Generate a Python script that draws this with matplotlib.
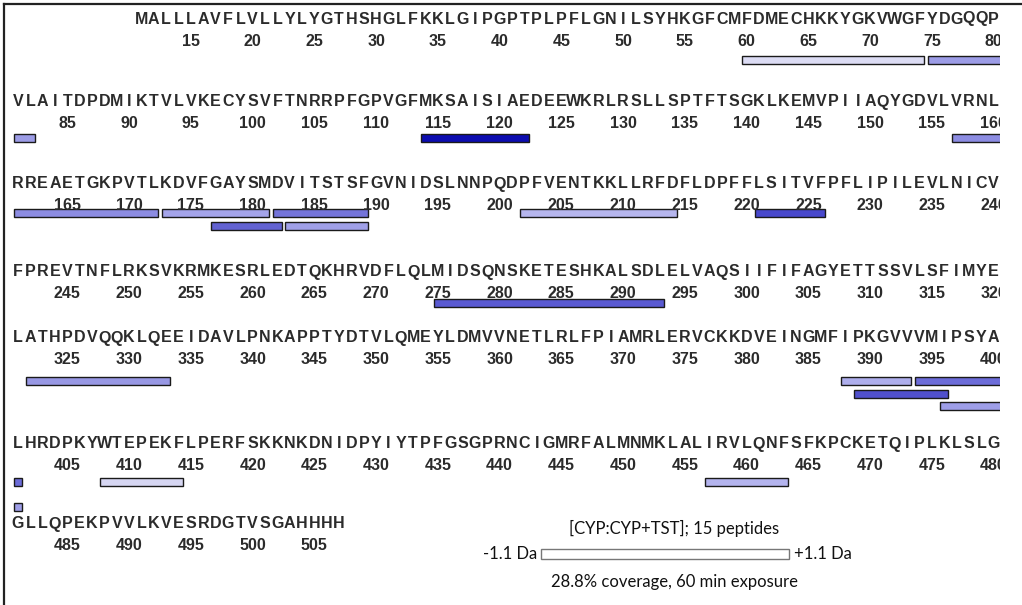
import matplotlib
matplotlib.use("Agg")
import matplotlib.pyplot as plt
from matplotlib.lines import Line2D
from matplotlib.patches import Rectangle

# ---- data -------------------------------------------------------------
sequence = (
    "MALLLAVFLVLLYLYGTHSHGLFKKLGIPGPTPLPFLGNILSYHKGFCMFDMECHKKYGKVWGFYDGQQP"
    "VLAITDPDMIKTVLVKECYSVFTNRRPFGPVGFMKSAISIAEDEEWKRLRSLLSPTFTSGKLKEMVPIIAQYGDVLVRNL"
    "RREAETGKPVTLKDVFGAYSMDVITSTSFGVNIDSLNNPQDPFVENTKKLLRFDFLDPFFLSITVFPFLIPILEVLNICV"
    "FPREVTNFLRKSVKRMKESRLEDTQKHRVDFLQLMIDSQNSKETESHKALSDLELVAQSIIFIFAGYETTSSVLSFIMYE"
    "LATHPDVQQKLQEEIDAVLPNKAPPTYDTVLQMEYLDMVVNETLRLFPIAMRLERVCKKDVEINGMFIPKGVVVMIPSYA"
    "LHRDPKYWTEPEKFLPERFSKKNKDNIDPYIYTPFGSGPRNCIGMRFALMNMKLALIRVLQNFSFKPCKETQIPLKLSLG"
    "GLLQPEKPVVLKVESRDGTVSGAHHHH"
)
first_residue = 11
residues_per_row = 80

pep_start = [60, 75, 114, 157, 173, 182, 177, 183, 202, 221, 275, 322, 388, 394, 389, 396, 408, 457]
pep_end = [74, 82, 122, 172, 181, 189, 182, 189, 214, 226, 293, 333, 393, 401, 396, 401, 414, 463]
pep_level = [0, 0, 0, 0, 0, 0, 1, 1, 0, 0, 0, 0, 0, 0, 1, 2, 0, 0]

title_text = "[CYP:CYP+TST]; 15 peptides"
scale_low = "-1.1 Da"
scale_high = "+1.1 Da"
footer_text = "28.8% coverage, 60 min exposure"

# ---- styles -----------------------------------------------------------
pep_color = ["#dcdcf4", "#9c9ce6", "#0c0cb0", "#8c8ce2", "#a4a4ea", "#7474da",
             "#6262d2", "#a0a0e8", "#b6b6ee", "#4848cc", "#5a5ad2", "#9898e4",
             "#aeaeec", "#6c6cd8", "#5050cc", "#9e9ee8", "#d6d6f2", "#b4b4ee"]

W, H = 1022, 605
pitch = 12.35          # px per residue column
col0_left = 11.8       # px of left edge of column 0
clip_px = 1000         # right edge of the sequence area

letter_y = [19, 102, 184, 272, 338, 444, 524]
bar_y0 = [60, 138, 213, 303, 381, 482, 560]
num_gap = 22
level_step = 12.5
bar_h = 8
inset = 0.16
txt_color = "#2b2b2b"

fig = plt.figure(figsize=(W / 100, H / 100), dpi=100)
ax = fig.add_axes([0, 0, clip_px / W, 1])
x_lo = -0.5 - col0_left / pitch
ax.set_xlim(x_lo, x_lo + clip_px / pitch)
ax.set_ylim(H, 0)
ax.axis("off")


def locate(res):
    idx = res - 1
    return idx // residues_per_row, idx % residues_per_row


# sequence letters and residue numbers
for i, aa in enumerate(sequence):
    res = first_residue + i
    row, col = locate(res)
    ax.text(col, letter_y[row], aa, ha="center", va="center", fontsize=11.5,
            fontweight="bold", color=txt_color, family="Liberation Sans",
            clip_on=True)
    if res % 5 == 0 and res >= 15:
        ax.text(col, letter_y[row] + num_gap, str(res), ha="center", va="center",
                fontsize=11.5, fontweight="bold", color=txt_color,
                family="Liberation Sans", clip_on=True)

# peptide bars, wrapped across rows
for s, e, lev, c in zip(pep_start, pep_end, pep_level, pep_color):
    r_s, c_s = locate(s)
    r_e, c_e = locate(e)
    for row in range(r_s, r_e + 1):
        left = c_s if row == r_s else 0
        right = c_e if row == r_e else residues_per_row + 1
        y = bar_y0[row] + lev * level_step
        ax.barh(y, (right - left + 1) - 2 * inset, left=left - 0.5 + inset,
                height=bar_h, color=c, edgecolor="#1a1a1a", linewidth=1.0)

# frame lines along the top and left
fig.add_artist(Line2D([3.5 / W, 1], [1 - 3.5 / H, 1 - 3.5 / H],
                      color="#222222", lw=1.6, transform=fig.transFigure))
fig.add_artist(Line2D([3.5 / W, 3.5 / W], [0, 1 - 3.5 / H],
                      color="#222222", lw=1.6, transform=fig.transFigure))

# legend
lfont = dict(family=["Lato", "DejaVu Sans"], fontsize=12, color="#111111")
fig.text(674 / W, 1 - 528 / H, title_text, ha="center", va="center", **lfont)
fig.text(537 / W, 1 - 554 / H, scale_low, ha="right", va="center", **lfont)
fig.text(794 / W, 1 - 554 / H, scale_high, ha="left", va="center", **lfont)
fig.text(674 / W, 1 - 582 / H, footer_text, ha="center", va="center", **lfont)
fig.add_artist(Rectangle((541 / W, 1 - 559 / H), (789 - 541) / W, 10 / H,
                         transform=fig.transFigure, facecolor="white",
                         edgecolor="#777777", lw=1.0))

fig.savefig("out.png", dpi=100)
